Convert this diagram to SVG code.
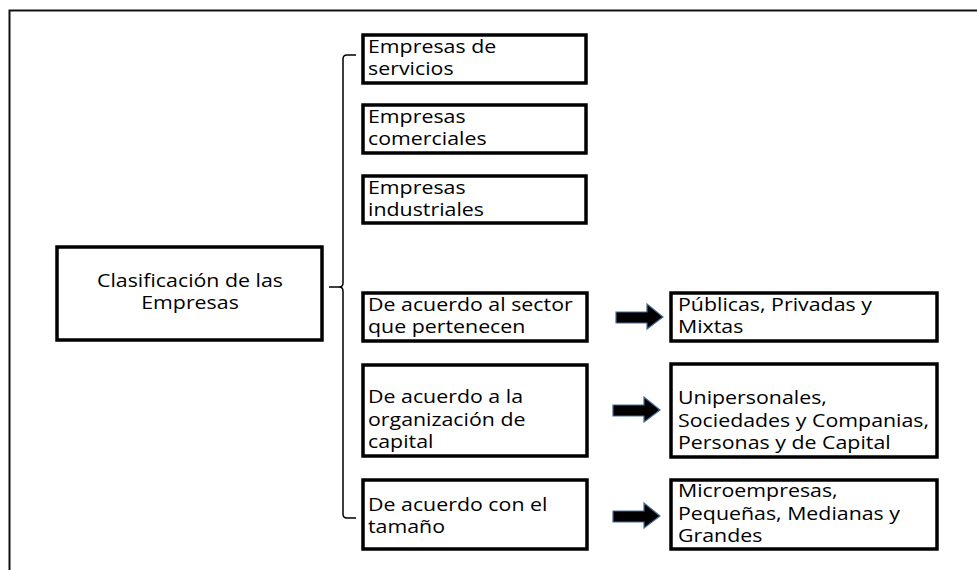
<svg xmlns="http://www.w3.org/2000/svg" width="977" height="570" viewBox="0 0 977 570">
<style>
.box{fill:#fff;stroke:#000;stroke-width:3.5}
.t{font-family:"Open Sans","Liberation Sans",sans-serif;font-size:17.5px;fill:#000}
.c{text-anchor:middle}
.arr{fill:#000;stroke:#4a6a96;stroke-width:1.2}
.br{fill:none;stroke:#000;stroke-width:1.5}
</style>
<rect x="0" y="0" width="977" height="570" fill="#fff"/>
<path d="M9.5,600 V10.5 H990" fill="none" stroke="#111" stroke-width="2"/>
<g id="connectors">
<path class="br" d="M356,55 H347 Q343,55 343,59 V283 Q343,287 339,287 H329 M339,287 Q343,287 343,291 V514 Q343,518 347,518 H356"/>
<polygon class="arr" points="616,312 647,312 647,304 663,317 647,329 647,323 616,323"/>
<polygon class="arr" points="613,405 644,405 644,397 660,410 644,422 644,416 613,416"/>
<polygon class="arr" points="613,511 644,511 644,503 660,516 644,528 644,522 613,522"/>
</g>
<g id="n-root">
<rect class="box" x="57" y="247" width="265" height="93"/>
<g transform="translate(190,0) scale(1.22,1)">
<text class="t c" x="0" y="287">Clasificación de las</text>
<text class="t c" x="0" y="309">Empresas</text>
</g>
</g>
<g id="n-servicios">
<rect class="box" x="363" y="35" width="223" height="48"/>
<g transform="translate(368,0) scale(1.22,1)">
<text class="t" x="0" y="53">Empresas de</text>
<text class="t" x="0" y="75">servicios</text>
</g>
</g>
<g id="n-comerciales">
<rect class="box" x="363" y="105" width="223" height="48"/>
<g transform="translate(368,0) scale(1.22,1)">
<text class="t" x="0" y="123">Empresas</text>
<text class="t" x="0" y="145">comerciales</text>
</g>
</g>
<g id="n-industriales">
<rect class="box" x="363" y="176" width="223" height="47"/>
<g transform="translate(368,0) scale(1.22,1)">
<text class="t" x="0" y="194">Empresas</text>
<text class="t" x="0" y="216">industriales</text>
</g>
</g>
<g id="n-sector">
<rect class="box" x="363" y="293" width="224" height="48"/>
<g transform="translate(368,0) scale(1.22,1)">
<text class="t" x="0" y="311">De acuerdo al sector</text>
<text class="t" x="0" y="333">que pertenecen</text>
</g>
</g>
<g id="n-capital">
<rect class="box" x="363" y="365" width="224" height="91"/>
<g transform="translate(368,0) scale(1.22,1)">
<text class="t" x="0" y="403">De acuerdo a la</text>
<text class="t" x="0" y="426">organización de</text>
<text class="t" x="0" y="448">capital</text>
</g>
</g>
<g id="n-tamano">
<rect class="box" x="363" y="480" width="224" height="69"/>
<g transform="translate(368,0) scale(1.22,1)">
<text class="t" x="0" y="511">De acuerdo con el</text>
<text class="t" x="0" y="533">tamaño</text>
</g>
</g>
<g id="n-publicas">
<rect class="box" x="671" y="293" width="266" height="48"/>
<g transform="translate(678,0) scale(1.22,1)">
<text class="t" x="0" y="311">Públicas, Privadas y</text>
<text class="t" x="0" y="333">Mixtas</text>
</g>
</g>
<g id="n-unipersonales">
<rect class="box" x="671" y="364" width="266" height="93"/>
<g transform="translate(678,0) scale(1.22,1)">
<text class="t" x="0" y="404">Unipersonales,</text>
<text class="t" x="0" y="427">Sociedades y Companias,</text>
<text class="t" x="0" y="449">Personas y de Capital</text>
</g>
</g>
<g id="n-micro">
<rect class="box" x="671" y="480" width="266" height="69"/>
<g transform="translate(678,0) scale(1.22,1)">
<text class="t" x="0" y="497">Microempresas,</text>
<text class="t" x="0" y="520">Pequeñas, Medianas y</text>
<text class="t" x="0" y="542">Grandes</text>
</g>
</g>
</svg>
